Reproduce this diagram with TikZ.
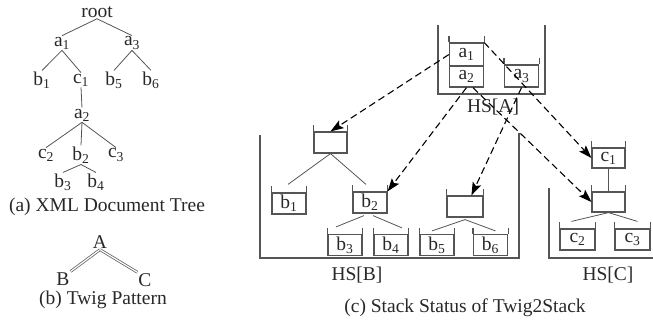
\documentclass[tikz,border=0pt]{standalone}
\usepackage{fontspec}
\setmainfont{Liberation Serif}
\usetikzlibrary{arrows.meta,calc}
\definecolor{inkc}{RGB}{40,40,40}
\definecolor{linec}{RGB}{85,85,85}
\newcommand\stkwalls[1]{\draw[wall] (#1.north west) -- ++(0,-6) (#1.north east) -- ++(0,-6);}
\begin{document}
\begin{tikzpicture}[x=1pt,y=-1pt,
  lbl/.style={font=\fontsize{19.5}{22}\selectfont, text=inkc, inner sep=1pt},
  tedge/.style={draw=linec, line width=0.8pt},
  wall/.style={draw=linec, line width=1.2pt},
  stk/.style={lbl, draw=linec, line width=1.2pt, minimum width=34pt, minimum height=21pt, inner sep=0pt},
  ptr/.style={draw=black, line width=1.1pt, dash pattern=on 7pt off 4pt, -{Stealth[length=13pt,width=9pt,inset=2.5pt]}},
  twig/.style={draw=gray!80!black, line width=0.8pt, double=white, double distance=1.2pt}]
\useasboundingbox (0,0) rectangle (653,321);

% ---------- (a) XML document tree ----------
\node[lbl] (t-root) at (97,12) {root};
\node[lbl] (t-a1) at (62,43) {a\textsubscript{1}};
\node[lbl] (t-a3) at (132,43) {a\textsubscript{3}};
\node[lbl] (t-b1) at (42,80) {b\textsubscript{1}};
\node[lbl] (t-c1) at (81,80) {c\textsubscript{1}};
\node[lbl] (t-b5) at (114,80) {b\textsubscript{5}};
\node[lbl] (t-b6) at (151,80) {b\textsubscript{6}};
\node[lbl] (t-a2) at (82,115) {a\textsubscript{2}};
\node[lbl] (t-c2) at (46,155) {c\textsubscript{2}};
\node[lbl] (t-b2) at (81,155) {b\textsubscript{2}};
\node[lbl] (t-c3) at (116,155) {c\textsubscript{3}};
\node[lbl] (t-b3) at (63,182) {b\textsubscript{3}};
\node[lbl] (t-b4) at (96,182) {b\textsubscript{4}};

\draw[tedge] (t-root.south) -- (t-a1.north);
\draw[tedge] (t-root.south) -- (t-a3.north);
\draw[tedge] (t-a1.south) -- (t-b1.north);
\draw[tedge] (t-a1.south) -- (t-c1.north);
\draw[tedge] (t-a3.south) -- (t-b5.north);
\draw[tedge] (t-a3.south) -- (t-b6.north);
\draw[tedge] (t-c1.south) -- (t-a2.north);
\draw[tedge] (t-a2.south) -- (t-c2.north);
\draw[tedge] (t-a2.south) -- (t-b2.north);
\draw[tedge] (t-a2.south) -- (t-c3.north);
\draw[tedge] (t-b2.south) -- (t-b3.north);
\draw[tedge] (t-b2.south) -- (t-b4.north);

\node[lbl] (cap-a) at (107,207) {(a) XML Document Tree};

% ---------- (b) twig pattern ----------
\node[lbl] (p-A) at (100,242) {A};
\node[lbl] (p-B) at (63,279) {B};
\node[lbl] (p-C) at (145,280) {C};
\draw[twig] (p-A.south) -- (p-B.north east);
\draw[twig] (p-A.south) -- (p-C.north west);
\node[lbl] (cap-b) at (103,300) {(b) Twig Pattern};

% ---------- (c) hierarchical stacks ----------
% containers
\draw[wall] (438,25) -- (438,94) -- (545,94) -- (545,25);
\draw[wall] (260,135) -- (260,258) -- (519,258) -- (519,133);
\draw[wall] (549,188) -- (549,258) -- (653,258);
\node[lbl] (hsa) at (493,107) {HS[A]};
\node[lbl] (hsb) at (357,275) {HS[B]};
\node[lbl] (hsc) at (608,275) {HS[C]};

% HS[A]
\node[stk, minimum height=23pt] (s-a1) at (466.5,54.5) {a\textsubscript{1}};
\node[stk, minimum height=21pt] (s-a2) at (466.5,76.5) {a\textsubscript{2}};
\stkwalls{s-a1}
\node[stk, minimum height=22pt] (s-a3) at (521.5,76) {a\textsubscript{3}};
\stkwalls{s-a3}

% HS[B]
\node[stk, minimum width=33pt] (s-bE) at (330.5,142.5) {};
\node[stk] (s-b1) at (289,203.5) {b\textsubscript{1}};
\node[stk] (s-b2) at (370,202.5) {b\textsubscript{2}};
\node[stk] (s-b3) at (345,245) {b\textsubscript{3}};
\node[stk] (s-b4) at (391,245) {b\textsubscript{4}};
\node[stk, minimum width=36pt] (s-bF) at (465,206.5) {};
\node[stk] (s-b5) at (437,245) {b\textsubscript{5}};
\node[stk] (s-b6) at (490.5,245) {b\textsubscript{6}};
\foreach \s in {s-bE,s-b1,s-b2,s-b3,s-b4,s-bF,s-b5,s-b6} {\stkwalls{\s}}

\draw[tedge] (s-bE.south) -- ($(s-b1.north)+(-1,-8)$);
\draw[tedge] (s-bE.south) -- ($(s-b2.north)+(-4,-7)$);
\draw[tedge] ($(s-b2.south)+(-6,2)$) -- ($(s-b3.north)+(-9,-7)$);
\draw[tedge] ($(s-b2.south)+(3,2)$) -- ($(s-b4.north)+(11,-6)$);
\draw[tedge] ($(s-bF.south)+(0,2)$) -- ($(s-b5.north)+(-5,-3)$);
\draw[tedge] ($(s-bF.south)+(0,2)$) -- ($(s-b6.north)+(5,-3)$);

% HS[C]
\node[stk, minimum width=33pt, minimum height=20pt] (s-c1) at (608.5,158) {c\textsubscript{1}};
\node[stk, minimum width=33pt, minimum height=20pt] (s-cE) at (608.5,202) {};
\node[stk, minimum width=35pt] (s-c2) at (577.5,239.5) {c\textsubscript{2}};
\node[stk, minimum width=35pt] (s-c3) at (632.5,239.5) {c\textsubscript{3}};
\foreach \s in {s-c1,s-cE,s-c2,s-c3} {\stkwalls{\s}}

\draw[tedge] (s-c1.south) -- (s-cE.north);
\draw[tedge] (s-cE.south) -- ($(s-c2.north)+(-6,-7)$);
\draw[tedge] (s-cE.south) -- ($(s-c3.north)+(5,-7)$);

% parent pointers
\draw[ptr] (s-a1.west) -- (s-bE.north);
\draw[ptr] (s-a2.south) -- (s-b2.north east);
\draw[ptr] (s-a3.south) -- (s-bF.60);
\draw[ptr] (s-a2.-60) -- (s-cE.west);
\draw[ptr] (s-a1.north east) -- (s-c1.west);

\node[lbl] (cap-c) at (465,308) {(c) Stack Status of Twig2Stack};
\end{tikzpicture}
\end{document}
